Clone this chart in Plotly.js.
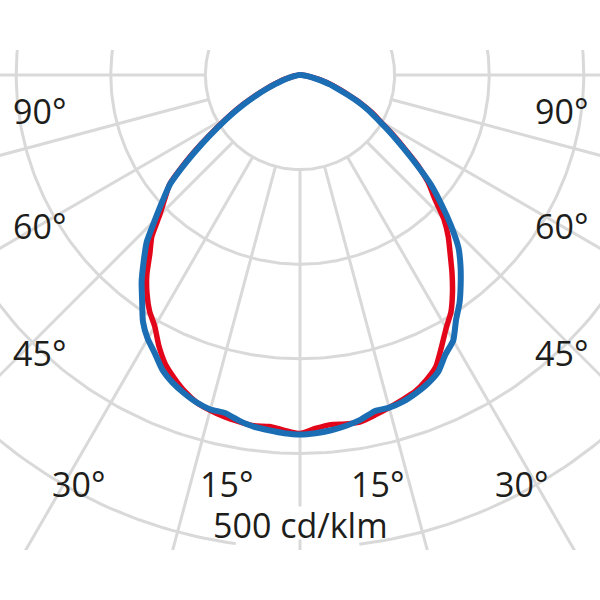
<!DOCTYPE html>
<html><head><meta charset="utf-8">
<script src="https://cdn.plot.ly/plotly-3.0.1.min.js"></script>
<style>html,body{margin:0;padding:0;background:#fff}#chart{width:600px;height:600px}</style>
</head><body><div id="chart"></div>
<script>
// gamma angle (deg from nadir) for each sample
const gamma = [0,2.5,5,7.5,10,12.5,15,17.5,20,22.5,25,27.5,30,32.5,35,37.5,40,42.5,45,47.5,50,52.5,55,57.5,60,62.5,65,67.5,70,72.5,75,77.5,80,82.5,85,87.5,90];
// luminous intensity, cd/klm
const blueLeft  = [380,379,377,375,371,366,366,363,358,352,344,332,322,309,291,275,257,240,217,197,179,152,126,103,84,67,51,38,28,20,14,9,5,3,1,0,0];
const blueRight = [380,379,377,374,370,364,364,362,358,353,346,333,324,307,294,279,264,248,226,203,181,155,132,113,96,83,69,54,42,33,24,16,10,6,3,1,0];
const redLeft   = [379,376,373,374,372,370,367,363,356,347,337,323,307,296,282,266,247,232,210,194,180,154,128,105,86,69,53,40,30,22,15,10,6,3,1,0,0];
const redRight  = [379,374,371,372,372,368,364,360,356,349,340,324,309,297,281,264,247,232,215,193,177,157,134,115,98,85,71,56,44,35,26,18,11,7,3,1,0];

const ringValues  = [100,200,300,400,500,600];
const spokeAngles = [-90,-75,-60,-45,-30,-15,0,15,30,45,60,75,90];
const angleLabels = ['90°','60°','45°','30°','15°','15°','30°','45°','60°','90°'];
const scaleLabel  = '500 cd/klm';

const D = Math.PI/180;
function curve(left, right){
  const xs=[], ys=[];
  for(let i=gamma.length-1;i>=0;i--){const t=-gamma[i]*D; xs.push(left[i]*Math.sin(t)); ys.push(-left[i]*Math.cos(t));}
  for(let i=1;i<gamma.length;i++){const t=gamma[i]*D; xs.push(right[i]*Math.sin(t)); ys.push(-right[i]*Math.cos(t));}
  return {xs, ys};
}
const GRID = '#d9d9d9';
const traces = [];
function arc(R, a0, a1){
  const xs=[], ys=[];
  for(let a=a0;a<=a1+1e-9;a+=1){xs.push(R*Math.sin(a*D)); ys.push(-R*Math.cos(a*D));}
  return {xs, ys};
}
ringValues.forEach(R=>{
  const g = (R===500) ? arc(R, 7.2, 352.8) : arc(R, 0, 360);
  traces.push({type:'scatter', mode:'lines', x:g.xs, y:g.ys, line:{color:GRID, width:3}, hoverinfo:'skip', showlegend:false});
});
spokeAngles.forEach(a=>{
  const segs = (a===0) ? [[100,456],[491,900]] : [[100,900]];
  segs.forEach(s=>{
    traces.push({type:'scatter', mode:'lines',
      x:[s[0]*Math.sin(a*D), s[1]*Math.sin(a*D)], y:[-s[0]*Math.cos(a*D), -s[1]*Math.cos(a*D)],
      line:{color:GRID, width:3}, hoverinfo:'skip', showlegend:false});
  });
});
const red = curve(redLeft, redRight);
const blue = curve(blueLeft, blueRight);
traces.push({type:'scatter', mode:'lines', x:red.xs, y:red.ys, line:{color:'#e3061b', width:5.5, shape:'spline', smoothing:0.5}, name:'C0-C180', showlegend:false});
traces.push({type:'scatter', mode:'lines', x:blue.xs, y:blue.ys, line:{color:'#1b6db4', width:6, shape:'spline', smoothing:0.5}, name:'C90-C270', showlegend:false});

// label positions in pixels (converted to paper)
const labelPos = [[39,111],[39,226],[39,353],[79,484],[226,484],[377,484],[521,484],[561,353],[561,226],[561,111]];
const FONT = {family:'Open Sans, Noto Sans, sans-serif', size:34, color:'#1d1d1b'};
const px2paper = (x,y)=>({x:x/600, y:(550-y)/500});
const annotations = angleLabels.map((t,i)=>{
  const p = px2paper(labelPos[i][0], labelPos[i][1]);
  return {text:t, xref:'paper', yref:'paper', x:p.x, y:p.y, xanchor:'center', yanchor:'middle', showarrow:false, font:FONT};
});
const sp = px2paper(300, 525);
annotations.push({text:scaleLabel, xref:'paper', yref:'paper', x:sp.x, y:sp.y, xanchor:'center', yanchor:'middle', showarrow:false, font:FONT});

const k = 0.946; // px per cd/klm
const layout = {
  width:600, height:600,
  margin:{l:0, r:0, t:50, b:50},
  paper_bgcolor:'#fff', plot_bgcolor:'#fff',
  xaxis:{range:[-300/k, 300/k], visible:false, fixedrange:true},
  yaxis:{range:[-475/k, 25/k], visible:false, fixedrange:true},
  annotations:annotations,
  showlegend:false
};
Plotly.newPlot('chart', traces, layout, {staticPlot:true, displayModeBar:false});
</script></body></html>
